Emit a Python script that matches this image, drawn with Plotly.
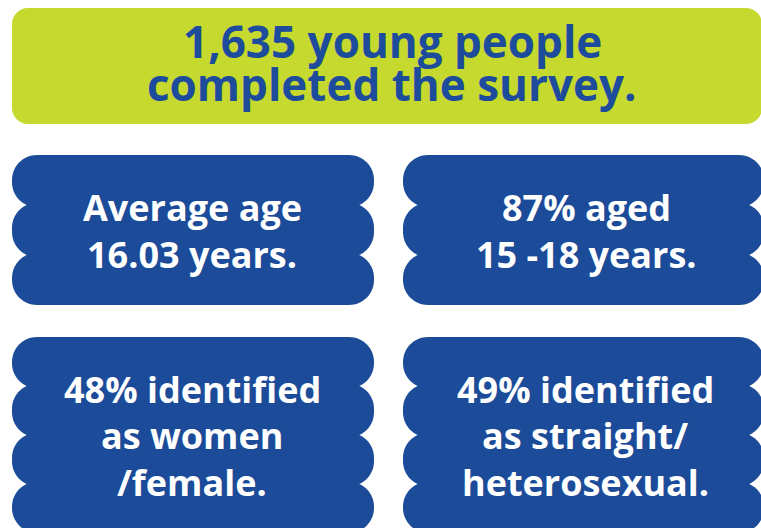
import plotly.graph_objects as go

# ---- data (values read from the infographic) ----
respondents = "1,635"
average_age = "16.03"
pct_aged_15_18 = 87
pct_women = 48
pct_straight = 49

headline_lines = [f"{respondents} young people", "completed the survey."]
stat_lines = [
    ["Average age", f"{average_age} years."],
    [f"{pct_aged_15_18}% aged", "15 -18 years."],
    [f"{pct_women}% identified", "as women", "/female."],
    [f"{pct_straight}% identified", "as straight/", "heterosexual."],
]

# ---- style ----
GREEN = "#C6D92E"
BLUE = "#1B4B99"
TEXT_BLUE = "#1D4C9C"
FONT = "Open Sans"

W, H = 761, 528


def rrect(x0, y0, x1, y1, r):
    k = 0.5523 * r
    return (
        f"M{x0 + r},{y0} L{x1 - r},{y0} "
        f"C{x1 - r + k},{y0} {x1},{y0 + r - k} {x1},{y0 + r} "
        f"L{x1},{y1 - r} "
        f"C{x1},{y1 - r + k} {x1 - r + k},{y1} {x1 - r},{y1} "
        f"L{x0 + r},{y1} "
        f"C{x0 + r - k},{y1} {x0},{y1 - r + k} {x0},{y1 - r} "
        f"L{x0},{y0 + r} "
        f"C{x0},{y0 + r - k} {x0 + r - k},{y0} {x0 + r},{y0} Z"
    )


shapes = []
# headline box
shapes.append(dict(type="path", path=rrect(12, 8, 762, 124, 16),
                   fillcolor=GREEN, line=dict(width=0), layer="below"))

# wavy stat boxes: (x0, x1, top, pitch, n_lobes)
boxes = [
    (12, 374, 155, 50, 3),
    (403, 764, 155, 50, 3),
    (12, 374, 337, 49, 4),
    (403, 764, 337, 49, 4),
]
R = 25
OV = 2.2
for x0, x1, top, pitch, n in boxes:
    for i in range(n):
        y0 = top + i * pitch - (OV if i > 0 else 0)
        y1 = top + (i + 1) * pitch + (OV if i < n - 1 else 0)
        shapes.append(dict(type="path", path=rrect(x0, y0, x1, y1, R),
                           fillcolor=BLUE, line=dict(width=0), layer="below"))

annotations = []
HS = 44
for txt, base in zip(headline_lines, [57, 100]):
    annotations.append(dict(x=392, y=base - 0.36 * HS, text=f"<b>{txt}</b>",
                            showarrow=False, xanchor="center", yanchor="middle",
                            font=dict(family=FONT, size=HS, color=TEXT_BLUE)))

SS = 36
stat_pos = [
    (192, [220, 267]),
    (586, [220, 267]),
    (192, [402, 448, 495]),
    (585, [402, 448, 495]),
]
for lines, (cx, bases) in zip(stat_lines, stat_pos):
    for txt, base in zip(lines, bases):
        annotations.append(dict(x=cx, y=base - 0.36 * SS, text=f"<b>{txt}</b>",
                                showarrow=False, xanchor="center", yanchor="middle",
                                font=dict(family=FONT, size=SS, color="white")))

fig = go.Figure()
fig.update_layout(
    width=W, height=H, autosize=False,
    margin=dict(l=0, r=0, t=0, b=0),
    paper_bgcolor="white", plot_bgcolor="white",
    xaxis=dict(range=[0, W], visible=False, fixedrange=True),
    yaxis=dict(range=[H, 0], visible=False, fixedrange=True),
    shapes=shapes, annotations=annotations, showlegend=False,
)
fig.write_html("out.html", config={"displayModeBar": False},
               post_script="document.body.style.margin='0';document.body.style.overflow='hidden';")
